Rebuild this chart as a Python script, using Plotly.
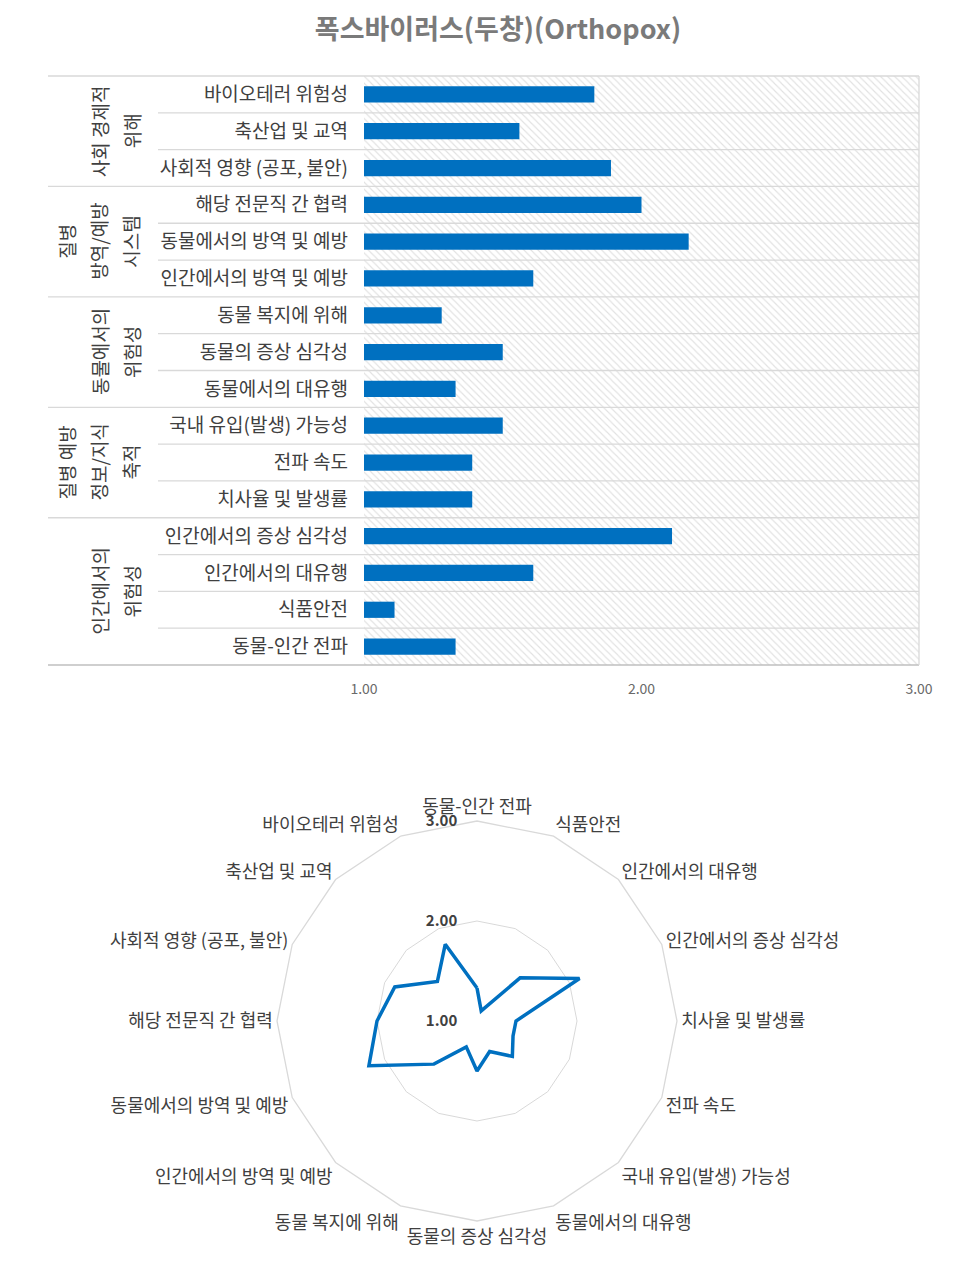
import plotly.graph_objects as go

FONT = "Noto Sans CJK KR"
W, H = 956, 1276
ML, MR, MT, MB = 40, 30, 60, 30
OFF = 8  # page body offset

title_text = "폭스바이러스(두창)(Orthopox)"

categories = [
    "바이오테러 위험성", "축산업 및 교역", "사회적 영향 (공포, 불안)",
    "해당 전문직 간 협력", "동물에서의 방역 및 예방", "인간에서의 방역 및 예방",
    "동물 복지에 위해", "동물의 증상 심각성", "동물에서의 대유행",
    "국내 유입(발생) 가능성", "전파 속도", "치사율 및 발생률",
    "인간에서의 증상 심각성", "인간에서의 대유행", "식품안전", "동물-인간 전파",
]
values = [1.83, 1.56, 1.89, 2.00, 2.17, 1.61, 1.28, 1.50, 1.33,
          1.50, 1.39, 1.39, 2.11, 1.61, 1.11, 1.33]

groups = [
    (["사회 경제적", "위해"], 3),
    (["질병", "방역/예방", "시스템"], 3),
    (["동물에서의", "위험성"], 3),
    (["질병 예방", "정보/지식", "축적"], 3),
    (["인간에서의", "위험성"], 4),
]

x_min, x_max = 1.0, 3.0
x_ticks = [1.0, 2.0, 3.0]
tick_labels = ["1.00", "2.00", "3.00"]

BAR_COLOR = "#0070C0"
GRID = "#d9d9d9"

def px_x(p):
    return (p - OFF - ML) / (W - ML - MR)

def px_y(p):
    return 1 - (p - OFF - MT) / (H - MT - MB)

bar_left, bar_right = 364, 919
bar_top, bar_bottom = 76, 665

fig = go.Figure()

# hatched background spanning the axis range
fig.add_trace(go.Bar(
    y=categories, x=[x_max - x_min] * len(categories), base=x_min,
    orientation="h", width=1.0,
    marker=dict(color="white", line=dict(width=0),
                pattern=dict(shape="\\", fgcolor="#c4c4c4", bgcolor="white",
                             size=5, solidity=0.22)),
    hoverinfo="skip", showlegend=False,
))

fig.add_trace(go.Bar(
    y=categories, x=[v - x_min for v in values], base=x_min,
    orientation="h", width=0.44,
    marker=dict(color=BAR_COLOR, line=dict(width=0)),
    showlegend=False, hoverinfo="skip",
))

fig.update_layout(
    barmode="overlay",
    width=W, height=H,
    margin=dict(l=ML, r=MR, t=MT, b=MB, autoexpand=False),
    paper_bgcolor="white", plot_bgcolor="white",
    font=dict(family=FONT, color="#404040"),
    title=dict(text=f"<b>{title_text}</b>", x=(498 - OFF) / W, xanchor="center",
               y=1 - (30 - OFF) / H, yanchor="middle",
               font=dict(size=27, color="#7a7a7a", family=FONT)),
    xaxis=dict(domain=[px_x(bar_left), px_x(bar_right)], range=[x_min, x_max],
               tickvals=x_ticks, ticktext=tick_labels, automargin=False,
               showgrid=True, gridcolor=GRID, gridwidth=1,
               zeroline=False, showline=False, ticks="",
               tickfont=dict(size=14, color="#6a6a6a"), ticklabelstandoff=14),
    yaxis=dict(domain=[px_y(bar_bottom), px_y(bar_top)], automargin=False,
               autorange="reversed", showgrid=False, ticks="",
               showline=False, tickfont=dict(size=19, color="#404040"),
               ticklabelstandoff=15),
)

n = len(categories)
row_h = (bar_bottom - bar_top) / n
shapes = []
group_starts = set()
acc = 0
for _, cnt in groups:
    group_starts.add(acc)
    acc += cnt
group_starts.add(acc)
for i in range(n + 1):
    yp = bar_top + i * row_h
    x0 = 48 if i in group_starts else 158
    color = "#bfbfbf" if i == n else GRID
    shapes.append(dict(type="line", xref="paper", yref="paper",
                       x0=px_x(x0), x1=px_x(bar_right), y0=px_y(yp), y1=px_y(yp),
                       line=dict(color=color, width=1.3)))
shapes.append(dict(type="line", xref="paper", yref="paper",
                   x0=px_x(bar_right), x1=px_x(bar_right),
                   y0=px_y(bar_top), y1=px_y(bar_bottom),
                   line=dict(color=GRID, width=1.3)))
fig.update_layout(shapes=shapes)

annotations = []
acc = 0
for lines, cnt in groups:
    yc = bar_top + (acc + cnt / 2) * row_h
    k = len(lines)
    for j, line in enumerate(lines):
        xc = 131 - (k - 1 - j) * 32
        annotations.append(dict(text=line, xref="paper", yref="paper",
                                x=px_x(xc), y=px_y(yc), showarrow=False,
                                textangle=-90, xanchor="center", yanchor="middle",
                                font=dict(size=19, color="#404040", family=FONT)))
    acc += cnt
fig.update_layout(annotations=annotations)

# radar chart
radar_cats = categories[::-1]
radar_vals = values[::-1]
cx, cy, R = 477, 1021, 200
fig.add_trace(go.Scatterpolar(
    theta=radar_cats + radar_cats[:1], r=radar_vals + radar_vals[:1],
    mode="lines", line=dict(color=BAR_COLOR, width=3.5),
    showlegend=False, hoverinfo="skip",
))
fig.update_layout(polar=dict(
    domain=dict(x=[px_x(cx - R), px_x(cx + R)], y=[px_y(cy + R), px_y(cy - R)]),
    gridshape="linear", bgcolor="white",
    radialaxis=dict(range=[1, 3], tickvals=x_ticks,
                    ticktext=[f"<b>{t}</b>" for t in tick_labels],
                    angle=90, tickangle=90, side="counterclockwise",
                    showline=False, ticks="outside", ticklen=14,
                    tickcolor="rgba(0,0,0,0)",
                    gridcolor=GRID, gridwidth=1.3,
                    tickfont=dict(size=15, color="#404040", family=FONT)),
    angularaxis=dict(rotation=90, direction="clockwise", showgrid=False,
                     showline=True, linecolor=GRID, linewidth=1.3, ticks="",
                     tickfont=dict(size=18, color="#404040", family=FONT)),
))

fig.write_html("out.html")
